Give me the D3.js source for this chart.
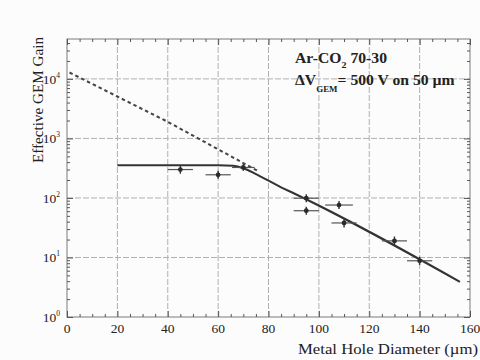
<!DOCTYPE html>
<html>
<head>
<meta charset="utf-8">
<script src="https://cdn.jsdelivr.net/npm/d3@7"></script>
<style>
  html, body { margin: 0; padding: 0; background: #fcfcfc; }
  svg { display: block; }
  text { font-family: "Liberation Serif", "DejaVu Serif", serif; fill: #222; }
</style>
</head>
<body>
<svg id="chart" width="480" height="360"></svg>
<script>
// Measured gain vs. metal hole diameter
const diameters = [45, 60, 70, 95, 95, 108, 110, 130, 140];
const gains     = [300, 245, 325, 99, 61, 76, 38, 19, 8.8];
const diamErr   = [5, 5, 4.5, 5, 5, 5.5, 5, 5, 5];
const gainLow   = [255, 210, 285, 85, 52, 65, 32, 16, 7.5];
const gainHigh  = [350, 285, 370, 115, 71, 89, 44, 22.5, 10.3];

// Fitted gain curve (solid) and its exponential extrapolation (dashed)
const fitX    = [20, 60, 66, 70, 75, 80, 85, 90, 156];
const fitGain = [355, 355, 347, 316, 251, 195, 151, 120, 3.9];
const extX    = [1, 40, 76];
const extGain = [12800, 1900, 280];

// Axis ticks
const xTicks = [0, 20, 40, 60, 80, 100, 120, 140, 160];
const yExponents = [0, 1, 2, 3, 4];

const svg = d3.select("#chart");
const mLeft = 67, mRight = 470, mTop = 39, mBottom = 317;

const x = d3.scaleLinear().domain([0, 160]).range([mLeft, mRight]);
const y = d3.scaleLog().domain([1, Math.pow(10, 4.67)]).range([mBottom, mTop]);

const ink = "#2a2a2a";

// Grid
const grid = svg.append("g").attr("stroke", "#b0b0b0").attr("stroke-width", 1)
  .attr("stroke-dasharray", "6,2");
grid.selectAll("line.vx").data(xTicks.slice(1, -1)).join("line")
  .attr("x1", d => x(d)).attr("x2", d => x(d)).attr("y1", mTop).attr("y2", mBottom);
grid.selectAll("line.hy").data(yExponents.slice(1)).join("line")
  .attr("x1", mLeft).attr("x2", mRight)
  .attr("y1", d => y(Math.pow(10, d))).attr("y2", d => y(Math.pow(10, d)));

// Frame
svg.append("rect").attr("x", mLeft).attr("y", mTop)
  .attr("width", mRight - mLeft).attr("height", mBottom - mTop)
  .attr("fill", "none").attr("stroke", "#7a7a7a").attr("stroke-width", 1);

// Minor tick values
const xMinor = d3.range(0, 161, 5).filter(v => v % 20 !== 0);
const yMinor = [];
for (let e = 0; e < 5; e++) for (let m = 2; m <= 9; m++) {
  const v = m * Math.pow(10, e);
  if (v <= y.domain()[1]) yMinor.push(v);
}

function styleAxis(g) {
  g.select(".domain").remove();
  g.selectAll(".tick line").attr("stroke", "#555").attr("stroke-width", 1);
  g.selectAll(".tick text").remove();
}

// Inward ticks on all four sides
svg.append("g").attr("transform", `translate(0,${mBottom})`)
  .call(d3.axisBottom(x).tickValues(xTicks).tickSizeInner(-6).tickSizeOuter(0)).call(styleAxis);
svg.append("g").attr("transform", `translate(0,${mBottom})`)
  .call(d3.axisBottom(x).tickValues(xMinor).tickSizeInner(-3).tickSizeOuter(0)).call(styleAxis);
svg.append("g").attr("transform", `translate(0,${mTop})`)
  .call(d3.axisTop(x).tickValues(xTicks).tickSizeInner(-6).tickSizeOuter(0)).call(styleAxis);
svg.append("g").attr("transform", `translate(0,${mTop})`)
  .call(d3.axisTop(x).tickValues(xMinor).tickSizeInner(-3).tickSizeOuter(0)).call(styleAxis);

const yMajorVals = yExponents.map(e => Math.pow(10, e));
svg.append("g").attr("transform", `translate(${mLeft},0)`)
  .call(d3.axisLeft(y).tickValues(yMajorVals).tickSizeInner(-6).tickSizeOuter(0)).call(styleAxis);
svg.append("g").attr("transform", `translate(${mLeft},0)`)
  .call(d3.axisLeft(y).tickValues(yMinor).tickSizeInner(-3).tickSizeOuter(0)).call(styleAxis);
svg.append("g").attr("transform", `translate(${mRight},0)`)
  .call(d3.axisRight(y).tickValues(yMajorVals).tickSizeInner(-6).tickSizeOuter(0)).call(styleAxis);
svg.append("g").attr("transform", `translate(${mRight},0)`)
  .call(d3.axisRight(y).tickValues(yMinor).tickSizeInner(-3).tickSizeOuter(0)).call(styleAxis);

// X tick labels
svg.append("g").selectAll("text").data(xTicks).join("text")
  .attr("x", d => x(d)).attr("y", 333)
  .attr("text-anchor", "middle").attr("font-size", 13.5)
  .text(d => d);

// Y tick labels as powers of ten
const yl = svg.append("g").selectAll("text").data(yExponents).join("text")
  .attr("x", 60).attr("y", d => y(Math.pow(10, d)) + 5)
  .attr("text-anchor", "end").attr("font-size", 13.5);
yl.append("tspan").text("10");
yl.append("tspan").attr("font-size", 7.5).attr("dy", -6).text(d => d);

// Axis titles
svg.append("text").attr("x", 478).attr("y", 354)
  .attr("text-anchor", "end").attr("font-size", 15)
  .attr("textLength", 180).attr("lengthAdjust", "spacingAndGlyphs")
  .text("Metal Hole Diameter (µm)");
svg.append("text")
  .attr("transform", "translate(43,100) rotate(-90)")
  .attr("text-anchor", "middle").attr("font-size", 15)
  .attr("textLength", 126).attr("lengthAdjust", "spacingAndGlyphs")
  .text("Effective GEM Gain");

// Annotation (gas mixture and GEM voltage)
const ann1 = svg.append("g").attr("font-weight", "bold")
  .attr("transform", "translate(295,63) scale(1.12,1)");
const a1 = ann1.append("text").attr("x", 0).attr("y", 0).attr("font-size", 14);
a1.append("tspan").text("Ar-CO");
a1.append("tspan").attr("font-size", 9).attr("dy", 5).text("2");
a1.append("tspan").attr("dy", -5).text(" 70-30");
const ann2 = svg.append("g").attr("font-weight", "bold")
  .attr("transform", "translate(295,85) scale(1.12,1)");
const a2 = ann2.append("text").attr("x", 0).attr("y", 0).attr("font-size", 14);
a2.append("tspan").text("ΔV");
a2.append("tspan").attr("font-size", 8).attr("dy", 7).text("GEM");
a2.append("tspan").attr("dy", -7).text("= 500 V on 50 µm");

// Curves
const line = d3.line().x(d => x(d[0])).y(d => y(d[1])).curve(d3.curveMonotoneX);
svg.append("path").datum(d3.zip(extX, extGain))
  .attr("d", d3.line().x(d => x(d[0])).y(d => y(d[1])))
  .attr("fill", "none").attr("stroke", "#444").attr("stroke-width", 2)
  .attr("stroke-dasharray", "3.5,3");
svg.append("path").datum(d3.zip(fitX, fitGain))
  .attr("d", line)
  .attr("fill", "none").attr("stroke", "#333").attr("stroke-width", 2);

// Data points with error bars
const pts = svg.append("g").selectAll("g").data(diameters.map((d, i) => i)).join("g");
pts.append("line")
  .attr("x1", i => x(diameters[i] - diamErr[i])).attr("x2", i => x(diameters[i] + diamErr[i]))
  .attr("y1", i => y(gains[i])).attr("y2", i => y(gains[i]))
  .attr("stroke", "#555").attr("stroke-width", 1.2);
pts.append("line")
  .attr("x1", i => x(diameters[i])).attr("x2", i => x(diameters[i]))
  .attr("y1", i => y(gainLow[i])).attr("y2", i => y(gainHigh[i]))
  .attr("stroke", "#333").attr("stroke-width", 1.4);
pts.append("circle")
  .attr("cx", i => x(diameters[i])).attr("cy", i => y(gains[i])).attr("r", 2.4)
  .attr("fill", ink);
</script>
</body>
</html>
